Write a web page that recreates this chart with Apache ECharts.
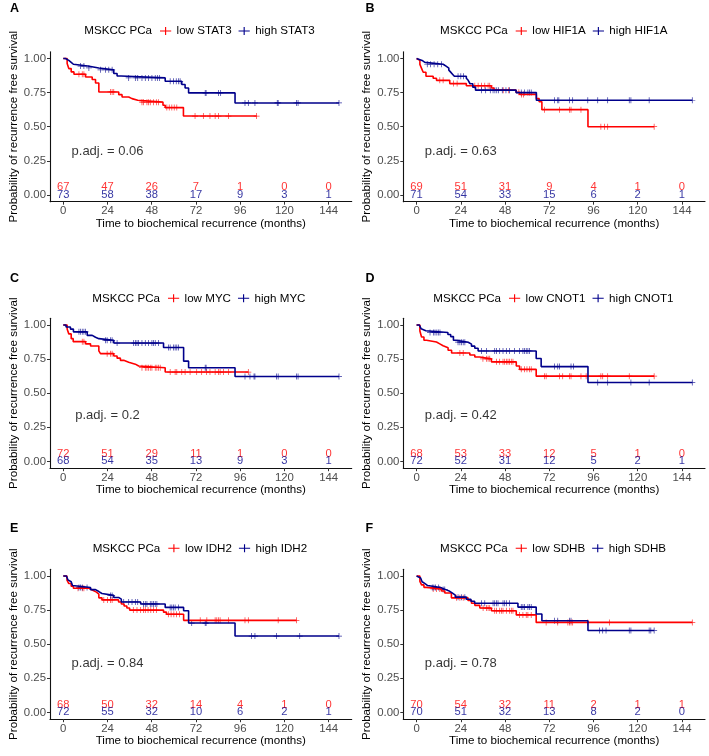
<!DOCTYPE html>
<html><head><meta charset="utf-8">
<script src="https://cdn.jsdelivr.net/npm/echarts@6/dist/echarts.min.js"></script>
<style>html,body{margin:0;padding:0;background:#fff}#c{width:709px;height:756px}</style>
</head><body><div id="c"></div>
<script>
// ---------- data ----------
const genes = ['STAT3','HIF1A','MYC','CNOT1','IDH2','SDHB'];
const panelLetters = ['A','B','C','D','E','F'];
const pAdj = ['0.06','0.63','0.2','0.42','0.84','0.78'];
const cohort = 'MSKCC PCa';
const riskTimes = [0,24,48,72,96,120,144];
const xTicks = [0,24,48,72,96,120,144];
const yTicks = [0,0.25,0.5,0.75,1];

// A: STAT3
const aLowT = [2.1,3,4.3,5.8,12.1,15.7,17.5,19.3,30.1,31.9,35.5,37.3,40.4,54.1,55.3,65.2];
const aLowS = [0.963,0.926,0.902,0.885,0.865,0.846,0.82,0.755,0.735,0.718,0.706,0.694,0.68,0.657,0.64,0.578];
const aLowC = [8.5,10.3,11.2,25.6,26.5,27.4,42.7,43.6,45.4,46.3,47.2,49,50.5,51.7,56.2,57.5,58.9,60.2,61.6,71.5,76,79.6,82.4,84.2,89.6,104.9];
const aHighT = [1.2,3,4.3,5.5,13.3,19.3,27.4,29.2,31.4,55.3,64.3,66.1,68,93.2];
const aHighS = [0.986,0.972,0.958,0.945,0.931,0.917,0.89,0.872,0.858,0.833,0.809,0.784,0.748,0.674];
const aHighC = [9.4,11.2,13.9,20.2,22.9,24.7,26.5,35.5,39.1,40.4,42.7,44.5,46.3,48.1,49.9,51.2,52.3,58,59.8,61.3,62.5,63.4,77,77.5,84.2,85.4,98.6,100.4,104,116.1,116.6,126.5,127.4,149.6];
const aRiskLow = [67,47,26,7,1,0,0];
const aRiskHigh = [73,58,38,17,9,3,1];

// B: HIF1A
const bLowT = [1,1.8,2.7,3.6,5.1,9,10.8,18,27,40.6,42,54,56,65,66.5,68,93];
const bLowS = [0.986,0.957,0.928,0.899,0.87,0.855,0.84,0.816,0.80,0.784,0.768,0.752,0.737,0.706,0.683,0.625,0.50];
const bLowC = [12.6,14.4,20,22,31.6,33.4,35.2,37,38.8,39.7,47,50,55.5,57,58,69.4,77.5,82.9,83.8,89.2,100,101.9,103.7,128.9];
const bHighT = [1,3,4.5,14.4,16,17.5,18.5,19.5,20.5,27,28,29,30.5,32,54,65];
const bHighS = [0.986,0.972,0.958,0.944,0.93,0.915,0.90,0.885,0.87,0.855,0.84,0.815,0.79,0.768,0.75,0.694];
const bHighC = [5.8,7.5,9.5,11.5,13.5,22.5,24,25.5,35.2,37.5,40,41.5,42.5,43.5,44.5,46.5,48.5,50.5,56.8,58.6,60.4,61.3,62.2,74.8,76.6,77.2,82.9,84.7,92.9,98.3,103.7,115.4,116.3,126.2,149.6];
const bRiskLow = [69,51,31,9,4,1,0];
const bRiskHigh = [71,54,33,15,6,2,1];

// C: MYC
const cLowT = [2.1,3,4.3,5.4,12.1,14.8,19.3,20.2,27.4,29.2,31,32.8,35.5,39.1,40.9,55.3];
const cLowS = [0.97,0.935,0.9,0.878,0.862,0.846,0.81,0.79,0.773,0.757,0.741,0.727,0.713,0.699,0.687,0.655];
const cLowC = [10.3,11.2,23.8,25.6,26.5,42.7,44.5,45.4,46.3,47.2,48.1,49.9,50.8,51.7,52.6,58,60.7,61.6,64.3,66.1,68.8,72.4,75.1,77.8,79.6,82.4,84.2,85.1,86.9,89.6,100.4];
const cHighT = [1.5,3.9,5.5,13,15.7,17.5,19.3,27.4,54.4,65.3,68,93.2];
const cHighS = [0.985,0.97,0.95,0.924,0.91,0.9,0.888,0.868,0.835,0.735,0.687,0.622];
const cHighC = [8.5,9.4,10.3,11.2,12.1,22.9,23.8,25.6,26.5,29.2,38.2,39.1,40,40.9,42.7,44.5,46.3,48.1,49,49.9,51.7,57.1,58,59.8,60.7,61.6,62.5,77,77.5,98.6,101.3,103.5,104,115.7,116.6,126.5,127.4,149.6];
const cRiskLow = [72,51,29,11,1,0,0];
const cRiskHigh = [68,54,35,13,9,3,1];

// D: CNOT1
const dLowT = [1.8,2.7,4,5.4,10.8,12.6,14.4,17.1,19,28.9,31.6,34.3,40.6,54.1,55.9,64.9];
const dLowS = [0.956,0.912,0.888,0.875,0.862,0.848,0.834,0.815,0.795,0.78,0.765,0.752,0.73,0.70,0.675,0.625];
const dLowC = [23.5,25.3,36,37.9,38.8,39.7,43.3,45.1,46.9,47.8,48.7,49.6,50.5,51.4,52.3,56.8,58.6,59.9,61.3,62.2,69.4,70.3,77.5,79.3,82.9,83.8,89.2,92,100,101,103.7,115.4,128.9];
const dHighT = [1.5,2.5,3.5,5,17,18.5,20,21.5,28,29.8,31.6,33.4,64.9,67.6,93];
const dHighS = [0.986,0.972,0.958,0.945,0.93,0.915,0.888,0.874,0.86,0.845,0.83,0.81,0.755,0.695,0.578];
const dHighC = [7.3,9.1,10,11,11.8,12.7,22.5,23.5,24.4,25.3,26.2,35.2,37.9,42.4,43.3,45.1,46.9,48.7,50.5,53.2,55.9,57.7,58.6,59.5,60.4,61.3,74.8,76.6,77.5,83.8,85.1,98.3,103.7,116.3,126.2,149.6];
const dRiskLow = [68,53,33,12,5,1,0];
const dRiskHigh = [72,52,31,12,5,2,1];

// E: IDH2
const eLowT = [2,3,4.3,5.5,14,16,18,19.3,21,30,31.5,33,34.5,36,54.4,56,65.3];
const eLowS = [0.97,0.945,0.925,0.91,0.896,0.882,0.868,0.84,0.825,0.81,0.795,0.78,0.765,0.75,0.735,0.72,0.675];
const eLowC = [8,10.3,11.2,22,24,25.6,26.5,38,40,42,43.5,44.5,46,47.5,49,50.5,57,58.5,60,61.5,63,68,74.3,77.9,82.4,83.3,84.2,85.1,89.6,98.6,100.4,116.6,126.5];
const eHighT = [1.7,2.5,3.4,4.3,5,6,14.8,17.5,19.3,21,27.4,30,31.5,42,55.3,65.3,68,93.2];
const eHighS = [0.986,0.972,0.958,0.944,0.93,0.916,0.90,0.886,0.872,0.858,0.843,0.83,0.81,0.795,0.77,0.745,0.655,0.56];
const eHighC = [8.5,9.4,10.3,12.9,25.6,26.5,32.8,35.5,37.3,39.1,40.4,43.6,44.5,45.4,47.2,48.1,49,49.9,50.8,58,58.9,59.8,60.7,62.5,69.7,77,77.5,102.2,104,115.7,128.3,149.6];
const eRiskLow = [68,50,32,14,4,1,0];
const eRiskHigh = [72,55,32,10,6,2,1];

// F: SDHB
const fLowT = [1.8,2.7,4,5.4,13.5,15.3,18.9,27.9,29.8,31.6,34.3,40.6,54.1,64.9];
const fLowS = [0.96,0.935,0.917,0.905,0.89,0.875,0.84,0.82,0.80,0.785,0.765,0.745,0.715,0.66];
const fLowC = [9,10.8,12.6,21.7,23.5,25.3,36.1,37.9,38.8,39.7,42.4,43.3,45.1,46,46.9,48.7,50.5,51.4,52.3,55.9,57.7,59.5,60.4,62.2,70.3,76.6,82.1,83,83.8,84.7,92.9,104.6,149.6];
const fHighT = [1,2.2,3,3.8,4.6,6,13,15.5,18,19.5,21,27,29.5,31.5,55,64.9,68,93];
const fHighS = [0.986,0.972,0.958,0.944,0.93,0.916,0.902,0.888,0.874,0.86,0.845,0.83,0.815,0.80,0.772,0.722,0.672,0.60];
const fHighC = [8.5,9.4,10.3,12,14.4,15.3,22.5,24.4,26.2,35.2,37,41.5,42.4,43.3,44.2,46.9,47.8,48.7,50.5,56.8,57.7,58.6,60.4,61.3,62.2,74.8,76.6,82.9,83.8,99.2,101,102.8,115.4,116.3,126.2,127.1,128.9];
const fRiskLow = [70,54,32,11,2,1,1];
const fRiskHigh = [70,51,32,13,8,2,0];

// ---------- assembly ----------
const curves = [
  [aLowT,aLowS,aLowC,aHighT,aHighS,aHighC,aRiskLow,aRiskHigh],
  [bLowT,bLowS,bLowC,bHighT,bHighS,bHighC,bRiskLow,bRiskHigh],
  [cLowT,cLowS,cLowC,cHighT,cHighS,cHighC,cRiskLow,cRiskHigh],
  [dLowT,dLowS,dLowC,dHighT,dHighS,dHighC,dRiskLow,dRiskHigh],
  [eLowT,eLowS,eLowC,eHighT,eHighS,eHighC,eRiskLow,eRiskHigh],
  [fLowT,fLowS,fLowC,fHighT,fHighS,fHighC,fRiskLow,fRiskHigh]
];
const RED = '#FF0000', BLUE = '#00008B';
const FONT = 'Liberation Sans, Arial, Helvetica, sans-serif';
const W = 301.7, H = 150;
const layout = [
  {left:50,    top:51.7,  ly:31,    iconLeft:160,   letterX:10,    letterY:9,     pY:0.318},
  {left:403.3, top:51.7,  ly:31,    iconLeft:515.7, letterX:365.5, letterY:9,     pY:0.318},
  {left:50,    top:318.2, ly:298.3, iconLeft:168,   letterX:10,    letterY:278.3, pY:0.34},
  {left:403.3, top:318.2, ly:298.3, iconLeft:509,   letterX:365.5, letterY:278.3, pY:0.34},
  {left:50,    top:569.2, ly:548.3, iconLeft:168.3, letterX:10,    letterY:528.3, pY:0.36},
  {left:403.3, top:569.2, ly:548.3, iconLeft:515.7, letterX:365.5, letterY:528.3, pY:0.36}
];
const plusPath = 'path://M0,4.4L10,4.4L10,5.6L0,5.6Z M4.4,0L5.6,0L5.6,10L4.4,10Z';
const legendIcon = 'path://M0,4.3L14,4.3L14,5.7L0,5.7Z M6.3,0L7.7,0L7.7,10L6.3,10Z';

function kmData(T,S,C){
  const end = Math.max(T[T.length-1], C.length ? C[C.length-1] : 0);
  const d = [[0,1]];
  T.forEach((t,k)=>d.push([t,S[k]]));
  d.push([end,S[S.length-1]]);
  return d;
}
function survAt(T,S,t){ let s=1; for(let k=0;k<T.length;k++){ if(T[k]<=t) s=S[k]; } return s; }

const grids=[], xAxes=[], yAxes=[], series=[], legends=[], graphics=[];
curves.forEach((cv,i)=>{
  const [lT,lS,lC,hT,hS,hC,rL,rH] = cv;
  const L = layout[i];
  const gene = genes[i];
  grids.push({left:L.left, top:L.top, width:W, height:H});
  xAxes.push({
    type:'value', gridIndex:i, min:-7.2, max:156.5,
    axisLine:{show:true,onZero:false,lineStyle:{color:'#111',width:1.1}},
    axisTick:{show:true,length:3,customValues:xTicks,lineStyle:{color:'#333',width:1}},
    axisLabel:{customValues:xTicks,color:'#4d4d4d',fontSize:11.4,margin:4,fontFamily:FONT},
    splitLine:{show:false},
    name:'Time to biochemical recurrence (months)', nameLocation:'middle', nameGap:15,
    nameTextStyle:{color:'#000',fontSize:11.6,fontFamily:FONT,verticalAlign:'top'}
  });
  yAxes.push({
    type:'value', gridIndex:i, min:-0.05, max:1.05,
    axisLine:{show:true,onZero:false,lineStyle:{color:'#111',width:1.1}},
    axisTick:{show:true,length:3,customValues:yTicks,lineStyle:{color:'#333',width:1}},
    axisLabel:{customValues:yTicks,color:'#4d4d4d',fontSize:11.4,margin:4,fontFamily:FONT,
      formatter:v=>v.toFixed(2)},
    splitLine:{show:false},
    name:'Probability of recurrence free survival', nameLocation:'middle', nameGap:30,
    nameTextStyle:{color:'#000',fontSize:11.6,fontFamily:FONT}
  });
  const groups = [
    {name:'low '+gene, T:lT, S:lS, C:lC, R:rL, color:RED, ry:0.056},
    {name:'high '+gene, T:hT, S:hS, C:hC, R:rH, color:BLUE, ry:0}
  ];
  groups.forEach(g=>{
    series.push({type:'line', name:g.name, xAxisIndex:i, yAxisIndex:i, step:'end',
      data:kmData(g.T,g.S,g.C), symbol:'none', showSymbol:false, silent:true,
      itemStyle:{color:g.color}, lineStyle:{color:g.color,width:1.6}, animation:false});
    series.push({type:'scatter', name:g.name, xAxisIndex:i, yAxisIndex:i, symbol:plusPath, symbolSize:6,
      data:g.C.map(t=>[t,survAt(g.T,g.S,t)]), itemStyle:{color:g.color}, silent:true, animation:false});
  });
  groups.forEach(g=>{
    series.push({type:'scatter', name:'risk '+g.name, xAxisIndex:i, yAxisIndex:i, symbolSize:0,
      data:riskTimes.map((t,k)=>[t,g.ry,g.R[k]]), silent:true, animation:false,
      label:{show:true,position:'inside',formatter:p=>String(p.value[2]),color:g.color,fontSize:11.2,fontFamily:FONT}});
  });
  series.push({type:'scatter', name:'pval'+i, xAxisIndex:i, yAxisIndex:i, symbolSize:0,
    data:[[24,L.pY]], silent:true, animation:false,
    label:{show:true,position:'inside',formatter:'p.adj. = '+pAdj[i],color:'#000',fontSize:13,fontFamily:FONT}});
  legends.push({left:L.iconLeft, top:L.ly-7, padding:0, itemGap:7, itemWidth:12, itemHeight:8,
    selectedMode:false, orient:'horizontal',
    data:groups.map(g=>({name:g.name, icon:legendIcon, itemStyle:{color:g.color}})),
    textStyle:{color:'#000',fontSize:11.6,fontFamily:FONT,lineHeight:14}});
  graphics.push({type:'text', x:L.iconLeft-8, y:L.ly,
    style:{text:cohort, fill:'#000', font:'11.6px '+FONT, textAlign:'right', textVerticalAlign:'middle'}});
  graphics.push({type:'text', x:L.letterX, y:L.letterY,
    style:{text:panelLetters[i], fill:'#000', font:'bold 12.5px '+FONT, textAlign:'left', textVerticalAlign:'middle'}});
});

const chart = echarts.init(document.getElementById('c'), null, {renderer:'canvas'});
chart.setOption({
  animation:false, backgroundColor:'#fff',
  grid:grids, xAxis:xAxes, yAxis:yAxes, series:series, legend:legends, graphic:graphics
});
</script></body></html>
